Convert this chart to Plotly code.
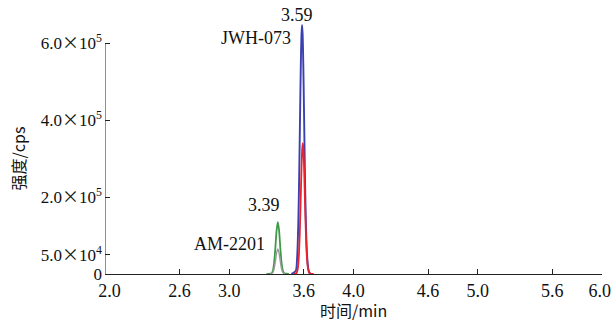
import plotly.graph_objects as go

# ---- data ----
x_ticks = [2.0, 2.6, 3.0, 3.6, 4.0, 4.6, 5.0, 5.6, 6.0]
# the end labels are nudged inward in the reference (non-breaking spaces)
x_ticklabels = ["\u00a0\u00a02.0", "2.6", "3.0", "3.6", "4.0", "4.6", "5.0", "5.6", "6.0\u00a0"]
y_ticks = [0, 5.0e4, 2.0e5, 4.0e5, 6.0e5]
TIMES_SIGN = "<span style='font-family:Noto Sans CJK SC'>×</span>"
y_ticklabels = ["0",
                "5.0" + TIMES_SIGN + "10<sup>4</sup>",
                "2.0" + TIMES_SIGN + "10<sup>5</sup>",
                "4.0" + TIMES_SIGN + "10<sup>5</sup>",
                "6.0" + TIMES_SIGN + "10<sup>5</sup>"]

blue_x = [3.50, 3.536, 3.546, 3.551, 3.556, 3.561, 3.566, 3.571, 3.576, 3.581, 3.586,
          3.591, 3.596, 3.601, 3.606, 3.611, 3.616, 3.621, 3.626, 3.636, 3.646, 3.66]
blue_y = [0, 0.085e5, 0.41e5, 0.78e5, 1.36e5, 2.19e5, 3.24e5, 4.39e5, 5.44e5, 6.20e5, 6.47e5,
          6.20e5, 5.44e5, 4.39e5, 3.26e5, 2.25e5, 1.45e5, 0.88e5, 0.50e5, 0.14e5, 0.03e5, 0]

red_x = [3.52, 3.542, 3.552, 3.557, 3.562, 3.567, 3.572, 3.577, 3.582, 3.587, 3.592,
         3.597, 3.602, 3.607, 3.612, 3.617, 3.622, 3.627, 3.632, 3.642, 3.652, 3.68]
red_y = [0, 0.026e5, 0.15e5, 0.31e5, 0.59e5, 1.00e5, 1.56e5, 2.19e5, 2.80e5, 3.24e5, 3.40e5,
         3.24e5, 2.80e5, 2.19e5, 1.58e5, 1.04e5, 0.63e5, 0.35e5, 0.18e5, 0.04e5, 0.01e5, 0]

green_x = [3.30, 3.341, 3.351, 3.361, 3.371, 3.381, 3.391, 3.401, 3.411, 3.421, 3.431, 3.441, 3.48]
green_y = [0, 0.018e5, 0.085e5, 0.285e5, 0.675e5, 1.135e5, 1.35e5, 1.135e5, 0.675e5,
           0.29e5, 0.09e5, 0.02e5, 0]

grey_x = [3.33, 3.351, 3.361, 3.371, 3.381, 3.391, 3.401, 3.411, 3.421, 3.431, 3.45]
grey_y = [0, 0.041e5, 0.137e5, 0.325e5, 0.547e5, 0.65e5, 0.547e5, 0.325e5, 0.137e5, 0.041e5, 0]

peak_labels = ["3.59", "JWH-073", "3.39", "AM-2201"]

SERIF = "Liberation Serif, Times New Roman, serif"
CJK = "Noto Sans CJK SC, sans-serif"

fig = go.Figure()
fig.add_trace(go.Scatter(x=green_x, y=green_y, mode="lines",
                         line=dict(color="#3f9a45", width=1.8, shape="spline", smoothing=0.6)))
fig.add_trace(go.Scatter(x=grey_x, y=grey_y, mode="lines",
                         line=dict(color="#9a9a9a", width=1.4, shape="spline", smoothing=0.6)))
fig.add_trace(go.Scatter(x=blue_x, y=blue_y, mode="lines",
                         line=dict(color="#3b40b0", width=1.9, shape="spline", smoothing=0.6)))
fig.add_trace(go.Scatter(x=red_x, y=red_y, mode="lines",
                         line=dict(color="#e8232c", width=1.8, shape="spline", smoothing=0.6)))

# y-axis line only up to the top tick
fig.add_shape(type="line", xref="x", yref="y", x0=x_ticks[0], x1=x_ticks[0],
              y0=y_ticks[0], y1=y_ticks[-1], line=dict(color="#222", width=1), layer="above")

fig.update_layout(
    width=612, height=325,
    margin=dict(l=105, r=10, t=20, b=51),
    paper_bgcolor="white", plot_bgcolor="white",
    showlegend=False,
    font=dict(family=SERIF, size=17, color="#111"),
    xaxis=dict(range=[2.0, 6.0], tickmode="array", tickvals=x_ticks, ticktext=x_ticklabels,
               ticks="inside", ticklen=5, tickcolor="#222", showline=True, linecolor="#222",
               linewidth=1, showgrid=False, zeroline=False, ticklabelstandoff=0,
               ticklabeloverflow="allow", automargin=False,
               tickfont=dict(family=SERIF, size=18)),
    yaxis=dict(range=[0, 6.6e5], tickmode="array", tickvals=y_ticks, ticktext=y_ticklabels,
               ticks="inside", ticklen=5, tickcolor="#222", showline=False,
               showgrid=False, zeroline=False, ticklabelstandoff=2, automargin=False,
               tickfont=dict(family=SERIF, size=17)),
)

fig.add_annotation(xref="x", yref="paper", x=3.548, y=1.02, text=peak_labels[0],
                   showarrow=False, xanchor="center", yanchor="middle",
                   font=dict(family=SERIF, size=18, color="#111"))
annos = [
    dict(x=3.516, y=6.13e5, text=peak_labels[1], xanchor="right", yanchor="middle"),
    dict(x=3.282, y=1.79e5, text=peak_labels[2], xanchor="center", yanchor="middle"),
    dict(x=3.306, y=0.78e5, text=peak_labels[3], xanchor="right", yanchor="middle"),
]
for a in annos:
    fig.add_annotation(xref="x", yref="y", showarrow=False,
                       font=dict(family=SERIF, size=18, color="#111"), **a)

fig.add_annotation(xref="paper", yref="paper", x=0.5, y=-0.14, text="时间/min",
                   showarrow=False, xanchor="center", yanchor="middle",
                   font=dict(family=CJK, size=16, color="#111"))
fig.add_annotation(xref="paper", yref="paper", x=-0.176, y=0.453, text="强度/cps",
                   showarrow=False, xanchor="center", yanchor="middle", textangle=-90,
                   font=dict(family=CJK, size=16, color="#111"))

# remove the browser's default 8px page margin so the figure fills the window
fig.write_html("out.html", config={"displayModeBar": False},
               post_script="document.body.style.margin='0';")
